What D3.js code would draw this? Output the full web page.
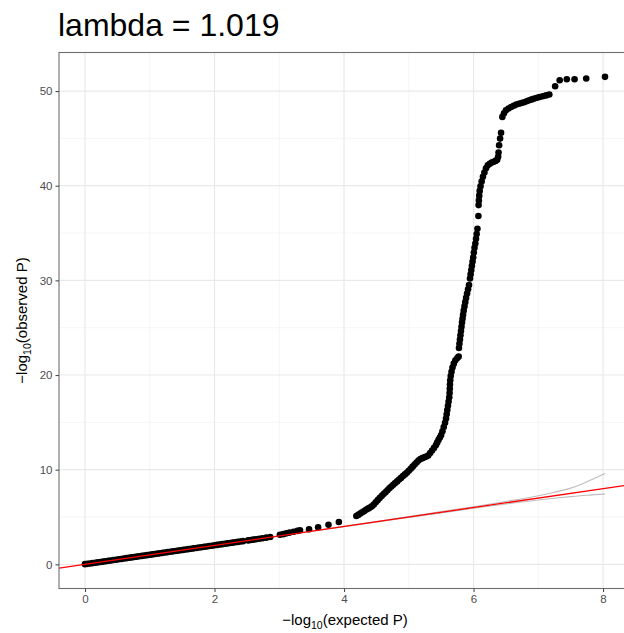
<!DOCTYPE html>
<html>
<head>
<meta charset="utf-8">
<script src="https://cdn.jsdelivr.net/npm/d3@7"></script>
<style>
  html, body { margin: 0; padding: 0; background: #ffffff; }
  svg { display: block; font-family: "Liberation Sans", Arial, Helvetica, sans-serif; }
</style>
</head>
<body>
<svg id="chart" width="624" height="633"></svg>
<script>
// QQ plot of GWAS p-values: [expected -log10 P, observed -log10 P]

// bulk of the SNPs, sitting on the null line
const nullBand = [
  [0.00,0.02],[0.04,0.05],[0.08,0.09],[0.12,0.13],[0.16,0.17],[0.20,0.21],[0.24,0.25],[0.28,0.29],
  [0.32,0.33],[0.36,0.37],[0.40,0.41],[0.44,0.45],[0.48,0.49],[0.52,0.53],[0.56,0.57],[0.60,0.61],
  [0.64,0.65],[0.68,0.69],[0.72,0.73],[0.76,0.77],[0.80,0.81],[0.84,0.85],[0.88,0.89],[0.92,0.93],
  [0.96,0.97],[1.00,1.01],[1.04,1.05],[1.08,1.09],[1.12,1.13],[1.16,1.17],[1.20,1.21],[1.24,1.25],
  [1.28,1.29],[1.32,1.33],[1.36,1.37],[1.40,1.41],[1.44,1.45],[1.48,1.49],[1.52,1.53],[1.56,1.57],
  [1.60,1.61],[1.64,1.65],[1.68,1.69],[1.72,1.73],[1.76,1.77],[1.80,1.81],[1.84,1.85],[1.88,1.89],
  [1.92,1.93],[1.96,1.97],[2.00,2.01],[2.04,2.05],[2.08,2.09],[2.12,2.13],[2.16,2.17],[2.20,2.21],
  [2.24,2.25],[2.28,2.29],[2.32,2.33],[2.36,2.37],[2.40,2.41],[2.44,2.45]
];

// sparser stretch before the tail departs from the null
const sparseBand = [
  [2.52,2.53],[2.56,2.57],[2.60,2.61],[2.64,2.65],[2.69,2.70],[2.74,2.76],[2.80,2.82],[2.86,2.88],
  [3.01,3.12],[3.06,3.19],[3.11,3.27],[3.16,3.35],[3.22,3.44],[3.28,3.53],[3.32,3.60],
  [3.46,3.70],[3.60,3.91],[3.76,4.18],[3.92,4.47]
];

// associated tail climbing away from the diagonal
const tailRise = [
  [4.19,5.10],[4.22,5.22],[4.25,5.36],[4.28,5.50],[4.31,5.62],[4.34,5.76],[4.37,5.88],[4.40,6.00],
  [4.43,6.14],[4.46,6.32],[4.49,6.55],[4.52,6.78],[4.55,7.00],[4.58,7.22],[4.61,7.42],[4.64,7.62],
  [4.67,7.82],[4.70,8.03],[4.73,8.22],[4.76,8.40],[4.79,8.58],[4.82,8.76],[4.85,8.95],[4.88,9.13],
  [4.91,9.32],[4.94,9.50],[4.97,9.68],[5.00,9.88],[5.03,10.10],[5.06,10.32],[5.09,10.54],[5.12,10.76],
  [5.15,10.96],[5.18,11.12],[5.21,11.22],[5.24,11.30],[5.27,11.38],[5.30,11.50],[5.33,11.75],[5.36,12.02],
  [5.39,12.30],[5.42,12.60],[5.44,12.88],[5.46,13.15],[5.48,13.40],[5.50,13.65],[5.52,14.05],[5.54,14.50],
  [5.56,14.95],[5.575,15.40],[5.585,15.85],[5.595,16.30],[5.605,16.75],[5.615,17.20],[5.625,17.65],
  [5.630,18.10],[5.633,18.55],[5.636,19.00],[5.640,19.45],[5.648,19.90],[5.660,20.35],[5.675,20.80],
  [5.695,21.20],[5.720,21.55],[5.750,21.80],[5.770,21.95],
  [5.775,22.85],[5.782,23.30],[5.790,23.75],[5.798,24.20],[5.806,24.65],[5.814,25.10],[5.822,25.55],
  [5.830,25.95],
  [5.838,26.35],[5.848,26.80],[5.860,27.25],[5.872,27.70],[5.885,28.15],[5.900,28.60],[5.915,29.05],
  [5.930,29.50],
  [5.945,30.20],[5.955,30.65],[5.965,31.10],[5.975,31.55],[5.985,32.00],[5.995,32.45],[6.005,32.95],
  [6.015,33.45],[6.028,33.90],[6.038,34.40],[6.048,34.90],[6.060,35.45],
  [6.075,36.80],
  [6.078,37.95],[6.082,38.45],[6.088,38.95],[6.095,39.45],[6.108,39.95],[6.125,40.45],[6.145,40.95],
  [6.168,41.40],[6.192,41.85],[6.220,42.15],[6.250,42.32],[6.280,42.45],[6.310,42.53],[6.340,42.62],
  [6.365,42.75],[6.380,43.05],
  [6.386,43.50],[6.395,44.28],[6.410,44.98],[6.425,45.60]
];

// strongest hits at the top of the plot
const topHits = [
  [6.445,47.27],[6.470,47.65],[6.500,47.97],[6.540,48.15],[6.580,48.32],[6.620,48.45],[6.660,48.57],
  [6.700,48.66],[6.740,48.74],[6.780,48.82],[6.820,48.92],[6.860,49.03],[6.900,49.12],[6.940,49.22],
  [6.980,49.30],[7.020,49.37],[7.070,49.45],[7.120,49.54],[7.170,49.63],
  [7.26,50.51],[7.33,51.14],[7.44,51.24],[7.56,51.24],[7.74,51.32],[8.03,51.50]
];

// 95% confidence band of the null expectation
const bandExpected = [0, 3, 4, 5, 5.5, 6, 6.5, 7, 7.25, 7.5, 7.75, 8.03];
const bandUpper    = [0, 3.01, 4.03, 5.04, 5.57, 6.09, 6.64, 7.25, 7.62, 8.05, 8.72, 9.60];
const bandLower    = [0, 2.99, 3.97, 4.94, 5.43, 5.92, 6.38, 6.80, 6.98, 7.15, 7.30, 7.42];

const xTicks = [0, 2, 4, 6, 8];
const yTicks = [0, 10, 20, 30, 40, 50];
const titleText = "lambda = 1.019";

const points = nullBand.concat(sparseBand, tailRise, topHits);

const svg = d3.select("#chart");
const W = 624, H = 633;
const panel = { left: 59, top: 52.5, right: 631, bottom: 588.5 };

const xExt = d3.extent(points, d => d[0]);
const yExt = d3.extent(points, d => d[1]);
const xPad = (xExt[1] - xExt[0]) * 0.05;
const yPad = (yExt[1] - yExt[0]) * 0.05;

const x = d3.scaleLinear().domain([xExt[0] - xPad, xExt[1] + xPad]).range([panel.left, panel.right]);
const y = d3.scaleLinear().domain([yExt[0] - yPad, yExt[1] + yPad]).range([panel.bottom, panel.top]);

svg.append("rect").attr("width", W).attr("height", H).attr("fill", "#ffffff");

svg.append("defs").append("clipPath").attr("id", "panelClip")
  .append("rect")
  .attr("x", panel.left).attr("y", panel.top)
  .attr("width", panel.right - panel.left).attr("height", panel.bottom - panel.top);

const plot = svg.append("g").attr("clip-path", "url(#panelClip)");

// grid
const xMinor = [1, 3, 5, 7];
const yMinor = [5, 15, 25, 35, 45];
plot.selectAll(".gx-minor").data(xMinor).join("line")
  .attr("x1", d => x(d)).attr("x2", d => x(d))
  .attr("y1", panel.top).attr("y2", panel.bottom)
  .attr("stroke", "#f2f2f2").attr("stroke-width", 0.8);
plot.selectAll(".gy-minor").data(yMinor).join("line")
  .attr("y1", d => y(d)).attr("y2", d => y(d))
  .attr("x1", panel.left).attr("x2", panel.right)
  .attr("stroke", "#f2f2f2").attr("stroke-width", 0.8);
plot.selectAll(".gx").data(xTicks).join("line")
  .attr("x1", d => x(d)).attr("x2", d => x(d))
  .attr("y1", panel.top).attr("y2", panel.bottom)
  .attr("stroke", "#e9e9e9").attr("stroke-width", 1.2);
plot.selectAll(".gy").data(yTicks).join("line")
  .attr("y1", d => y(d)).attr("y2", d => y(d))
  .attr("x1", panel.left).attr("x2", panel.right)
  .attr("stroke", "#e9e9e9").attr("stroke-width", 1.2);

// confidence band edges
const bandLine = d3.line().x(d => x(d[0])).y(d => y(d[1])).curve(d3.curveMonotoneX);
[bandUpper, bandLower].forEach(vals => {
  plot.append("path")
    .datum(bandExpected.map((e, i) => [e, vals[i]]))
    .attr("d", bandLine)
    .attr("fill", "none")
    .attr("stroke", "#bdbdbd")
    .attr("stroke-width", 1.1);
});

// observed vs expected
plot.selectAll("circle.pt").data(points).join("circle")
  .attr("class", "pt")
  .attr("cx", d => x(d[0]))
  .attr("cy", d => y(d[1]))
  .attr("r", 3.3)
  .attr("fill", "#000000");

// null diagonal y = x
const xd = x.domain();
plot.append("line")
  .attr("x1", x(xd[0])).attr("y1", y(xd[0]))
  .attr("x2", x(xd[1])).attr("y2", y(xd[1]))
  .attr("stroke", "#ff0000").attr("stroke-width", 1.3);

// panel border
svg.append("rect")
  .attr("x", panel.left).attr("y", panel.top)
  .attr("width", panel.right - panel.left).attr("height", panel.bottom - panel.top)
  .attr("fill", "none").attr("stroke", "#6e6e6e").attr("stroke-width", 1.1);

// axes
const xAxis = svg.append("g")
  .attr("transform", `translate(0,${panel.bottom})`)
  .call(d3.axisBottom(x).tickValues(xTicks).tickFormat(d3.format("d")).tickSize(3.5).tickPadding(3));
const yAxis = svg.append("g")
  .attr("transform", `translate(${panel.left},0)`)
  .call(d3.axisLeft(y).tickValues(yTicks).tickFormat(d3.format("d")).tickSize(3.5).tickPadding(3));
[xAxis, yAxis].forEach(g => {
  g.select(".domain").remove();
  g.selectAll(".tick line").attr("stroke", "#4d4d4d").attr("stroke-width", 1.1);
  g.selectAll(".tick text")
    .attr("fill", "#4d4d4d")
    .style("font-size", "11.5px")
    .style("font-family", "'Liberation Sans', Arial, Helvetica, sans-serif");
});

// axis titles with subscripted log base
function logTitle(sel, label) {
  sel.append("tspan").text("\u2212log");
  sel.append("tspan").text("10").attr("font-size", "10.5px").attr("dy", 4);
  sel.append("tspan").text("(" + label + ")").attr("dy", -4);
}
svg.append("text")
  .attr("x", (panel.left + panel.right) / 2)
  .attr("y", 625)
  .attr("text-anchor", "middle")
  .attr("font-size", "15px")
  .attr("fill", "#000000")
  .call(logTitle, "expected P");

svg.append("text")
  .attr("transform", `translate(27,${(panel.top + panel.bottom) / 2}) rotate(-90)`)
  .attr("text-anchor", "middle")
  .attr("font-size", "15px")
  .attr("fill", "#000000")
  .call(logTitle, "observed P");

// title
svg.append("text")
  .attr("x", 58)
  .attr("y", 36)
  .attr("font-size", "32px")
  .attr("fill", "#000000")
  .text(titleText);
</script>
</body>
</html>
